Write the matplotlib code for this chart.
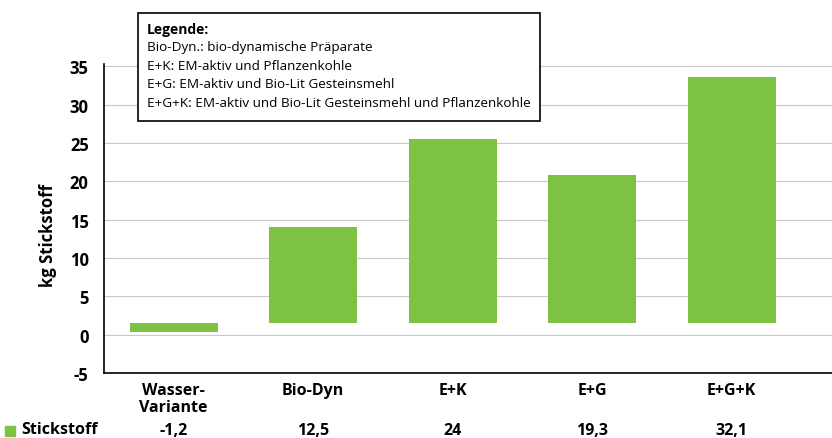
import matplotlib
matplotlib.use("Agg")
import matplotlib.pyplot as plt
from matplotlib.patches import Rectangle

categories = ["Wasser-\nVariante", "Bio-Dyn", "E+K", "E+G", "E+G+K"]
value_labels = ["-1,2", "12,5", "24", "19,3", "32,1"]
stickstoff = [-1.2, 12.5, 24, 19.3, 32.1]
baseline = 1.5
yticks = [-5, 0, 5, 10, 15, 20, 25, 30, 35]
legend_title = "Legende:"
legend_lines = [
    "Bio-Dyn.: bio-dynamische Präparate",
    "E+K: EM-aktiv und Pflanzenkohle",
    "E+G: EM-aktiv und Bio-Lit Gesteinsmehl",
    "E+G+K: EM-aktiv und Bio-Lit Gesteinsmehl und Pflanzenkohle",
]
series_name = "Stickstoff"
ylabel = "kg Stickstoff"

plt.rcParams['font.family'] = ['Open Sans', 'DejaVu Sans']
green = '#7ec243'

fig = plt.figure(figsize=(8.32, 4.39), dpi=100)
ax = fig.add_axes([104/832, 1 - 374/439, 1 - 104/832, 309/439])

x = list(range(len(categories)))
ax.bar(x, stickstoff, bottom=baseline, width=0.63, color=green, zorder=3)

ax.set_xlim(-0.5, 4.72)
ax.set_ylim(-5, 35.3)
ax.set_yticks(yticks)
ax.set_yticklabels([str(t) for t in yticks], fontsize=12, fontweight='bold')
ax.tick_params(axis='y', length=0, pad=11)
ax.set_xticks([])
for t in yticks[1:]:
    ax.axhline(t, color='#c8c8c8', lw=0.8, zorder=1)
for s in ['top', 'right']:
    ax.spines[s].set_visible(False)
ax.spines['left'].set_linewidth(1.2)
ax.spines['bottom'].set_linewidth(1.2)
fig.text(48/832, 1 - 235/439, ylabel, rotation=90, ha='center', va='center',
         fontsize=12, fontweight='bold')

trans = ax.get_xaxis_transform()
for xi, cat, val in zip(x, categories, value_labels):
    ax.text(xi, -0.028, cat, transform=trans, ha='center', va='top',
            fontsize=11.5, fontweight='bold', linespacing=1.15)
    ax.text(xi, -0.186, val, transform=trans, ha='center', va='center',
            fontsize=11.5, fontweight='bold')

# series label with square marker
fig.add_artist(Rectangle((5/832, 1 - 437/439), 10/832, 10/439,
                         transform=fig.transFigure, color=green))
fig.text(21/832, 1 - 430/439, series_name, ha='left', va='center',
         fontsize=11.5, fontweight='bold')

# legend box
fig.add_artist(Rectangle((138/832, 1 - 122/439), (540 - 138)/832, (122 - 14)/439,
                         transform=fig.transFigure, facecolor='white',
                         edgecolor='black', lw=1.2, zorder=5))
fig.text(147/832, 1 - 30/439, legend_title, ha='left', va='center',
         fontsize=10, fontweight='bold', zorder=6)
for i, line in enumerate(legend_lines):
    fig.text(147/832, 1 - (48 + i * 18.5)/439, line, ha='left', va='center',
             fontsize=9.7, zorder=6)

fig.savefig('out.png', dpi=100)
